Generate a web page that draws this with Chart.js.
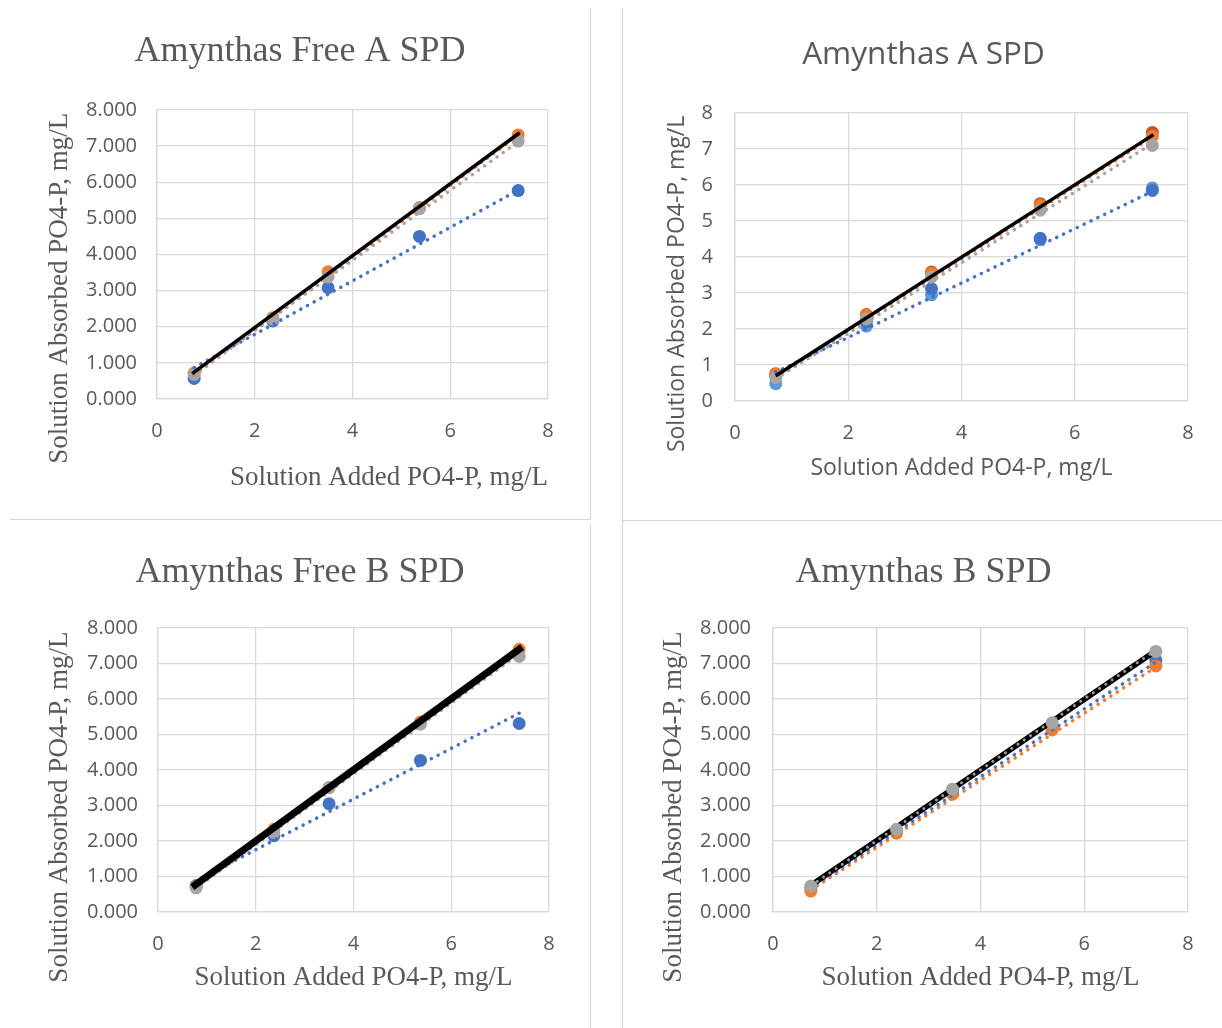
<!DOCTYPE html>
<html><head><meta charset="utf-8">
<script src="https://cdn.jsdelivr.net/npm/chart.js@4.4.1/dist/chart.umd.min.js"></script>
<style>
html,body{margin:0;padding:0;background:#fff;}
body{width:1222px;height:1028px;position:relative;overflow:hidden;}
.panel{position:absolute;}
.rule{position:absolute;background:#d4d4d4;}
</style></head><body>
<div class="rule" style="left:590px;top:8px;width:1px;height:511px"></div>
<div class="rule" style="left:10px;top:519px;width:581px;height:1px"></div>
<div class="rule" style="left:622px;top:8px;width:1px;height:1020px"></div>
<div class="rule" style="left:622px;top:520px;width:600px;height:1px"></div>
<div class="rule" style="left:590px;top:525px;width:1px;height:503px"></div>
<canvas id="c1" class="panel" style="left:0px;top:0px" width="590" height="519"></canvas>
<canvas id="c2" class="panel" style="left:623px;top:0px" width="599" height="519"></canvas>
<canvas id="c3" class="panel" style="left:0px;top:522px" width="590" height="506"></canvas>
<canvas id="c4" class="panel" style="left:623px;top:522px" width="599" height="506"></canvas>
<script>
// ---------- Data ----------
// Panel 1: Amynthas Free A SPD
const freeA_x      = [0.76, 2.37, 3.50, 5.37, 7.39];
const freeA_blue   = [0.57, 2.16, 3.08, 4.50, 5.77];
const freeA_orange = [0.72, 2.25, 3.52, 5.30, 7.31];
const freeA_gray   = [0.68, 2.22, 3.38, 5.27, 7.14];
const freeA_trendX      = [0.76, 7.39];
const freeA_trendBlue   = [0.87, 5.78];
const freeA_trendOrange = [0.66, 7.30];
const freeA_trendGray   = [0.70, 7.12];
const freeA_lineX = [0.72, 7.42];
const freeA_lineY = [0.70, 7.37];

// Panel 2: Amynthas A SPD
const a_x          = [0.72, 2.32, 3.47, 5.39, 7.37];
const a_blue       = [0.70, 2.20, 3.12, 4.52, 5.85];
const a_lightBlue  = [0.48, 2.08, 2.95, 4.48, 5.92];
const a_orange     = [0.74, 2.38, 3.55, 5.43, 7.35];
const a_darkOrange = [0.76, 2.40, 3.58, 5.48, 7.46];
const a_gray       = [0.65, 2.28, 3.45, 5.30, 7.10];
const a_trendX      = [0.72, 7.37];
const a_trendBlue   = [0.80, 5.82];
const a_trendOrange = [0.66, 7.33];
const a_trendGray   = [0.62, 7.15];
const a_lineX = [0.72, 7.39];
const a_lineY = [0.70, 7.40];

// Panel 3: Amynthas Free B SPD
const freeB_x      = [0.78, 2.37, 3.50, 5.37, 7.39];
const freeB_blue   = [0.74, 2.15, 3.05, 4.27, 5.31];
const freeB_orange = [0.74, 2.33, 3.50, 5.35, 7.40];
const freeB_gray   = [0.68, 2.24, 3.51, 5.29, 7.20];
const freeB_trendX      = [0.76, 7.39];
const freeB_trendBlue   = [0.87, 5.60];
const freeB_trendOrange = [0.68, 7.42];
const freeB_trendGray   = [0.66, 7.27];
const freeB_lineX = [0.70, 7.45];
const freeB_lineY = [0.70, 7.46];

// Panel 4: Amynthas B SPD
const b_x      = [0.73, 2.38, 3.46, 5.38, 7.38];
const b_blue   = [0.68, 2.28, 3.40, 5.22, 7.09];
const b_orange = [0.59, 2.22, 3.32, 5.13, 6.93];
const b_gray   = [0.73, 2.33, 3.46, 5.33, 7.34];
const b_trendX      = [0.73, 7.38];
const b_trendBlue   = [0.68, 7.04];
const b_trendOrange = [0.62, 6.90];
const b_trendGray   = [0.74, 7.38];
const b_lineX = [0.76, 7.38];
const b_lineY = [0.78, 7.36];

// Axis ranges / tick steps
const xRange = [0, 8]; const xStep = 2;
const yRange = [0, 8]; const yStep = 1;

// Texts
const titles = ['Amynthas Free A SPD', 'Amynthas A SPD', 'Amynthas Free B SPD', 'Amynthas B SPD'];
const xTitle = 'Solution Added PO4-P, mg/L';
const yTitle = 'Solution Absorbed PO4-P, mg/L';

// ---------- Styling ----------
const BLUE = '#4472C4', LBLUE = '#5B9BD5', ORANGE = '#ED7D31', DORANGE = '#C0591A', GRAY = '#A5A5A5', BLACK = '#000000';
const TEXT = '#595959', GRID = '#d9d9d9';
const SERIF = '"Liberation Serif", "Times New Roman", serif';
const SANS = '"Open Sans", "Liberation Sans", sans-serif';

function pts(xs, ys) { return xs.map((x, i) => ({ x: x, y: ys[i] })); }
function markers(label, xs, ys, color, order) {
  return { label, data: pts(xs, ys), showLine: false, pointRadius: 6.5, pointHoverRadius: 6.5,
    pointBackgroundColor: color, pointBorderColor: color, pointBorderWidth: 0, backgroundColor: color, borderColor: color, order };
}
function trend(label, xs, ys, color, width, order) {
  return { label, data: pts(xs, ys), showLine: true, pointRadius: 0, borderColor: color, borderWidth: width,
    borderDash: [0.1, 7.5], borderCapStyle: 'round', fill: false, tension: 0, order };
}
function solid(label, xs, ys, width, order) {
  return { label, data: pts(xs, ys), showLine: true, pointRadius: 0, borderColor: BLACK, borderWidth: width,
    borderCapStyle: 'butt', fill: false, tension: 0, order };
}

function makeChart(id, L) {
  const canvas = document.getElementById(id);
  const W = canvas.width, H = canvas.height;
  const tLH = L.titleSize * 1.2;
  const aLH = L.axisSize * 1.2;
  const yText = yTitle + ' '.repeat(L.ySpaces);
  return new Chart(canvas, {
    type: 'scatter',
    data: { datasets: L.datasets },
    options: {
      responsive: false, animation: false, devicePixelRatio: 1,
      layout: { padding: { left: L.padLeft, top: 0, right: 0, bottom: 0 } },
      plugins: {
        legend: { display: false }, tooltip: { enabled: false },
        title: { display: true, text: L.title, color: TEXT,
          font: { family: L.titleFamily, size: L.titleSize, weight: 'normal', lineHeight: 1.2 },
          padding: { top: L.titleY - tLH / 2, bottom: L.top - (L.titleY + tLH / 2) } }
      },
      scales: {
        x: {
          type: 'linear', min: xRange[0], max: xRange[1],
          ticks: { stepSize: xStep, color: TEXT, font: { family: SANS, size: L.tickSize }, padding: L.xTickPad, maxRotation: 0 },
          grid: { color: GRID, lineWidth: 1.3, drawTicks: false },
          border: { color: GRID, width: 1.3 },
          title: { display: true, text: xTitle, color: TEXT, align: L.xAlign,
            font: { family: L.axisFamily, size: L.axisSize, weight: 'normal', lineHeight: 1.2 },
            padding: { top: 0, bottom: H - L.xTitleY - aLH / 2 } },
          afterFit: (s) => { s.height = H - L.bottom; }
        },
        y: {
          type: 'linear', position: 'left', min: yRange[0], max: yRange[1],
          ticks: { stepSize: yStep, color: TEXT, font: { family: SANS, size: L.tickSize }, padding: L.yTickPad,
            callback: (v) => v.toFixed(L.decimals) },
          grid: { color: GRID, lineWidth: 1.3, drawTicks: false },
          border: { color: GRID, width: 1.3 },
          title: { display: true, text: yText, color: TEXT,
            font: { family: L.axisFamily, size: L.axisSize, weight: 'normal', lineHeight: 1.2 },
            padding: { top: L.yTitleX - L.padLeft - aLH / 2, bottom: 0 } },
          afterFit: (s) => { s.width = L.left - L.padLeft; }
        },
        yMargin: {
          type: 'linear', position: 'right', display: true, min: yRange[0], max: yRange[1],
          grid: { display: false, drawTicks: false }, border: { display: false },
          ticks: { display: false },
          afterFit: (s) => { s.width = W - L.right; }
        }
      }
    }
  });
}

makeChart('c1', {
  title: titles[0], titleFamily: SERIF, titleSize: 36, titleY: 52, padLeft: 10,
  axisFamily: SERIF, axisSize: 27, tickSize: 20, decimals: 3,
  left: 157, right: 548, top: 110, bottom: 399,
  xTickPad: 20, yTickPad: 20, xTitleY: 478, xAlign: 'end', yTitleX: 60, ySpaces: 10,
  datasets: [
    solid('1:1', freeA_lineX, freeA_lineY, 3.5, 0),
    trend('Blue trend', freeA_trendX, freeA_trendBlue, BLUE, 3.5, 1),
    trend('Gray trend', freeA_trendX, freeA_trendGray, GRAY, 3.5, 2),
    trend('Orange trend', freeA_trendX, freeA_trendOrange, ORANGE, 3.5, 3),
    markers('Gray', freeA_x, freeA_gray, GRAY, 4),
    markers('Orange', freeA_x, freeA_orange, ORANGE, 5),
    markers('Blue', freeA_x, freeA_blue, BLUE, 6)
  ]
});

makeChart('c2', {
  title: titles[1], titleFamily: SANS, titleSize: 31.5, titleY: 55, padLeft: 2,
  axisFamily: SANS, axisSize: 23, tickSize: 20, decimals: 0,
  left: 112, right: 565, top: 113, bottom: 401,
  xTickPad: 20, yTickPad: 22, xTitleY: 468, xAlign: 'center', yTitleX: 54, ySpaces: 9,
  datasets: [
    solid('1:1', a_lineX, a_lineY, 3.5, 0),
    trend('Blue trend', a_trendX, a_trendBlue, BLUE, 3.5, 1),
    trend('Gray trend', a_trendX, a_trendGray, GRAY, 3.5, 2),
    trend('Orange trend', a_trendX, a_trendOrange, ORANGE, 3.5, 3),
    markers('Gray', a_x, a_gray, GRAY, 4),
    markers('Orange', a_x, a_orange, ORANGE, 5),
    markers('Dark orange', a_x, a_darkOrange, DORANGE, 6),
    markers('Blue', a_x, a_blue, BLUE, 7),
    markers('Light blue', a_x, a_lightBlue, LBLUE, 8)
  ]
});

makeChart('c3', {
  title: titles[2], titleFamily: SERIF, titleSize: 36, titleY: 51, padLeft: 10,
  axisFamily: SERIF, axisSize: 27, tickSize: 20, decimals: 3,
  left: 158, right: 549, top: 106, bottom: 390,
  xTickPad: 20, yTickPad: 20, xTitleY: 456, xAlign: 'center', yTitleX: 60, ySpaces: 11,
  datasets: [
    solid('1:1', freeB_lineX, freeB_lineY, 7, 0),
    trend('Blue trend', freeB_trendX, freeB_trendBlue, BLUE, 3.5, 1),
    trend('Gray trend', freeB_trendX, freeB_trendGray, GRAY, 3.5, 2),
    trend('Orange trend', freeB_trendX, freeB_trendOrange, ORANGE, 3.5, 3),
    markers('Gray', freeB_x, freeB_gray, GRAY, 4),
    markers('Orange', freeB_x, freeB_orange, ORANGE, 5),
    markers('Blue', freeB_x, freeB_blue, BLUE, 6)
  ]
});

makeChart('c4', {
  title: titles[3], titleFamily: SERIF, titleSize: 36, titleY: 51, padLeft: 2,
  axisFamily: SERIF, axisSize: 27, tickSize: 20, decimals: 3,
  left: 150, right: 565, top: 106, bottom: 390,
  xTickPad: 20, yTickPad: 22, xTitleY: 456, xAlign: 'center', yTitleX: 51, ySpaces: 11,
  datasets: [
    markers('Gray', b_x, b_gray, GRAY, 0),
    trend('Gray trend', b_trendX, b_trendGray, '#9a9a9a', 3, 1),
    solid('1:1', b_lineX, b_lineY, 5.5, 2),
    trend('Blue trend', b_trendX, b_trendBlue, BLUE, 3.5, 3),
    trend('Orange trend', b_trendX, b_trendOrange, ORANGE, 3.5, 4),
    markers('Orange', b_x, b_orange, ORANGE, 5),
    markers('Blue', b_x, b_blue, BLUE, 6)
  ]
});
</script>
</body></html>
